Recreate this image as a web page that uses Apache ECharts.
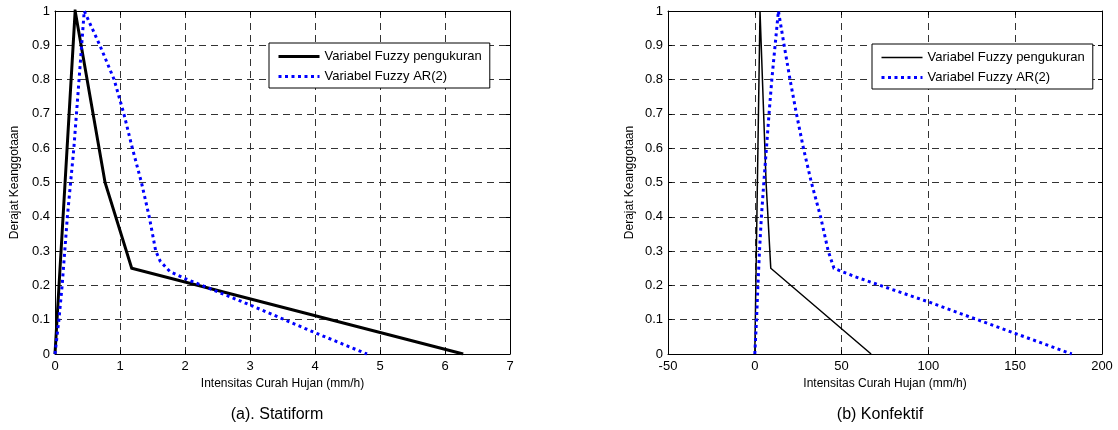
<!DOCTYPE html>
<html>
<head>
<meta charset="utf-8">
<script src="https://cdn.jsdelivr.net/npm/echarts@6/dist/echarts.min.js"></script>
<style>
html,body{margin:0;padding:0;background:#fff;}
#c{width:1118px;height:430px;}
</style>
</head>
<body>
<div id="c"></div>
<script>
// ---- data ----
const seriesNames = ['Variabel Fuzzy pengukuran', 'Variabel Fuzzy AR(2)'];
const subtitles = ['(a). Statiform', '(b) Konfektif'];
const xAxisName = 'Intensitas Curah Hujan (mm/h)';
const yAxisName = 'Derajat Keanggotaan';

// (a) Statiform  [intensity, membership]
const statMeasured = [[0,0],[0.31,1],[0.77,0.5],[1.18,0.25],[6.28,0]];
const statAR2 = [[0,0],[0.06,0.1],[0.11,0.2],[0.15,0.3],[0.19,0.4],[0.24,0.5],[0.29,0.6],[0.33,0.7],[0.37,0.8],[0.41,0.9],[0.45,1],
  [0.69,0.9],[0.91,0.8],[1.06,0.7],[1.19,0.6],[1.33,0.5],[1.45,0.4],[1.55,0.3],[1.62,0.27],[1.77,0.24],[2.0,0.22],[3.0,0.143],[4.0,0.062],[4.8,0]];

// (b) Konfektif
const konMeasured = [[0,0],[3,1],[6.5,0.5],[9.2,0.25],[67,0]];
const konAR2 = [[0,0],[1,0.1],[1.8,0.2],[2.7,0.3],[3.8,0.4],[5.2,0.5],[6.7,0.6],[8.2,0.7],[9.8,0.8],[11.7,0.9],[13.6,1],
  [16.9,0.9],[20.3,0.8],[24,0.7],[28,0.6],[32.6,0.5],[37.9,0.4],[42.3,0.3],[45.6,0.25],[50.4,0.24],[58,0.225],[73.4,0.198],[100,0.152],[150,0.06],[182.6,0]];

const xRangeA = {min:0, max:7, interval:1};
const xRangeB = {min:-50, max:200, interval:50};
const yRange = {min:0, max:1, interval:0.1};

// ---- chart ----
const FONT = 'Liberation Sans, Arial, sans-serif';
const chart = echarts.init(document.getElementById('c'));

function xAx(idx, r){
  return {type:'value', gridIndex:idx, min:r.min, max:r.max, interval:r.interval,
    name:xAxisName, nameLocation:'middle', nameGap:23,
    nameTextStyle:{fontFamily:FONT, fontSize:12, color:'#000'},
    axisLine:{onZero:false, lineStyle:{color:'#000', width:1}},
    axisTick:{inside:true, length:4, lineStyle:{color:'#000'}},
    axisLabel:{fontFamily:FONT, fontSize:13, color:'#000', margin:6},
    splitLine:{show:true, lineStyle:{color:'#333', type:[7,5], width:1}}};
}
function xAxTop(idx, r){
  return {type:'value', gridIndex:idx, position:'top', min:r.min, max:r.max, interval:r.interval, z:1,
    axisLine:{show:true, onZero:false, lineStyle:{color:'#000', width:1}},
    axisTick:{show:true, inside:true, length:4, lineStyle:{color:'#000'}},
    axisLabel:{show:false}, splitLine:{show:false}};
}
function yAx(idx, gap){
  return {type:'value', gridIndex:idx, min:yRange.min, max:yRange.max, interval:yRange.interval,
    name:yAxisName, nameLocation:'middle', nameGap:gap,
    nameTextStyle:{fontFamily:FONT, fontSize:12, color:'#000'},
    axisLine:{show:true, onZero:false, lineStyle:{color:'#000', width:1}},
    axisTick:{show:true, inside:true, length:4, lineStyle:{color:'#000'}},
    axisLabel:{fontFamily:FONT, fontSize:13, color:'#000', margin:5,
      formatter:v=> (v===0||v===1)? String(v) : v.toFixed(1)},
    splitLine:{show:true, lineStyle:{color:'#333', type:[7,5], width:1}}};
}
function yAxRight(idx){
  return {type:'value', gridIndex:idx, position:'right', min:yRange.min, max:yRange.max, interval:yRange.interval, z:1,
    axisLine:{show:true, onZero:false, lineStyle:{color:'#000', width:1}},
    axisTick:{show:true, inside:true, length:4, lineStyle:{color:'#000'}},
    axisLabel:{show:false}, splitLine:{show:false}};
}
function legend(left, top, blackW){
  return {orient:'vertical', left:left, top:top, backgroundColor:'#fff',
    borderColor:'#000', borderWidth:1, borderRadius:0, padding:[7,8,5,8],
    itemWidth:41, itemHeight:12, itemGap:7, selectedMode:false, z:5,
    textStyle:{fontFamily:FONT, fontSize:13, color:'#000'},
    data:[{name:seriesNames[0], lineStyle:{width:blackW}, itemStyle:{opacity:0}},
          {name:seriesNames[1], lineStyle:{width:3}, itemStyle:{opacity:0}}]};
}
function line(name, data, idx, color, width, type){
  return {type:'line', name:name, data:data, xAxisIndex:idx*2, yAxisIndex:idx*2,
    showSymbol:false, symbol:'none', smooth:false, animation:false, z: type==='solid'?3:4,
    lineStyle:{color:color, width:width, type:type, cap:'butt', join:'miter'},
    itemStyle:{color:color}};
}

chart.setOption({
  animation:false,
  textStyle:{fontFamily:FONT},
  title:[
    {text:subtitles[0], left:272, top:402, textAlign:'center', textStyle:{fontFamily:FONT, fontSize:16, fontWeight:'normal', color:'#000'}},
    {text:subtitles[1], left:875, top:402, textAlign:'center', textStyle:{fontFamily:FONT, fontSize:16, fontWeight:'normal', color:'#000'}}
  ],
  grid:[
    {left:55, top:11, width:455, height:343},
    {left:668, top:11, width:434, height:343}
  ],
  xAxis:[xAx(0, xRangeA), xAxTop(0, xRangeA), xAx(1, xRangeB), xAxTop(1, xRangeB)],
  yAxis:[yAx(0, 34), yAxRight(0), yAx(1, 32), yAxRight(1)],
  legend:[legend(269, 43, 3), legend(872, 44, 1.5)],
  series:[
    line(seriesNames[0], statMeasured, 0, '#000000', 3, 'solid'),
    line(seriesNames[1], statAR2, 0, '#0000ff', 3, [3,3.5]),
    line(seriesNames[0], konMeasured, 1, '#000000', 1.5, 'solid'),
    line(seriesNames[1], konAR2, 1, '#0000ff', 3, [3,3.5])
  ]
});
</script>
</body>
</html>
